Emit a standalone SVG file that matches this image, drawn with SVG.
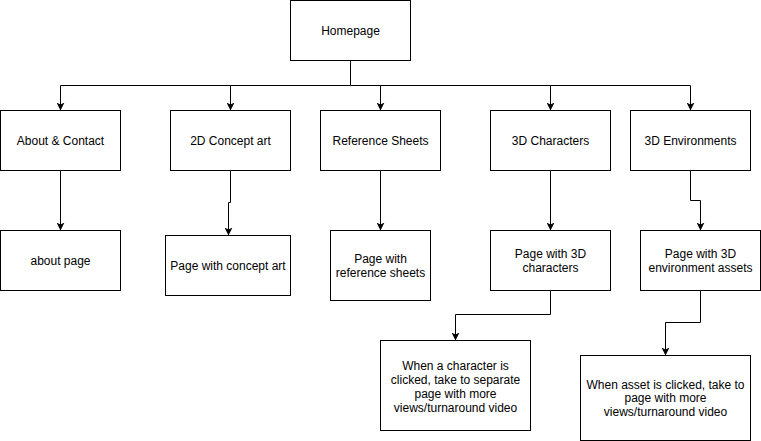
<svg xmlns="http://www.w3.org/2000/svg" width="761" height="441" viewBox="0 0 761 441">
<style>
.box{fill:#fff;stroke:#000;stroke-width:1}
.t{font-family:"Liberation Sans",Arial,sans-serif;font-size:12px;fill:#000;text-anchor:middle}
.c{fill:none;stroke:#000;stroke-width:1}
</style>
<defs>
<marker id="arr" viewBox="0 0 8 8" markerUnits="userSpaceOnUse" markerWidth="8" markerHeight="8" refX="8" refY="4" orient="auto">
<path d="M0,0 L8,4 L0,8 L2,4 Z" fill="#000"/>
</marker>
</defs>
<rect width="761" height="441" fill="#fff"/>
<g id="connectors">
<path class="c" d="M350.5,60.5 V85.5"/>
<path class="c" d="M350.5,85.5 H60.5 V110.5" marker-end="url(#arr)"/>
<path class="c" d="M230.5,85.5 V110.5" marker-end="url(#arr)"/>
<path class="c" d="M350.5,85.5 H690.5 V110.5" marker-end="url(#arr)"/>
<path class="c" d="M380.5,85.5 V110.5" marker-end="url(#arr)"/>
<path class="c" d="M550.5,85.5 V110.5" marker-end="url(#arr)"/>
<path class="c" d="M60.5,170.5 V230.5" marker-end="url(#arr)"/>
<path class="c" d="M230.5,170.5 V202.5 H228.5 V235.5" marker-end="url(#arr)"/>
<path class="c" d="M380.5,170.5 V230.5" marker-end="url(#arr)"/>
<path class="c" d="M550.5,170.5 V230.5" marker-end="url(#arr)"/>
<path class="c" d="M690.5,170.5 V200.5 H700.5 V230.5" marker-end="url(#arr)"/>
<path class="c" d="M550.5,290.5 V314.5 H455.5 V340.5" marker-end="url(#arr)"/>
<path class="c" d="M700.5,290.5 V322.5 H665.5 V355.5" marker-end="url(#arr)"/>
</g>
<g id="homepage"><rect class="box" x="290.5" y="0.5" width="120" height="60"/><text class="t" x="350.5" y="35">Homepage</text></g>
<g id="about-contact"><rect class="box" x="0.5" y="110.5" width="120" height="60"/><text class="t" x="60.5" y="145">About &amp; Contact</text></g>
<g id="concept-art"><rect class="box" x="170.5" y="110.5" width="120" height="60"/><text class="t" x="230.5" y="145">2D Concept art</text></g>
<g id="reference-sheets"><rect class="box" x="320.5" y="110.5" width="120" height="60"/><text class="t" x="380.5" y="145">Reference Sheets</text></g>
<g id="3d-characters"><rect class="box" x="490.5" y="110.5" width="120" height="60"/><text class="t" x="550.5" y="145">3D Characters</text></g>
<g id="3d-environments"><rect class="box" x="630.5" y="110.5" width="120" height="60"/><text class="t" x="690.5" y="145">3D Environments</text></g>
<g id="about-page"><rect class="box" x="0.5" y="230.5" width="120" height="60"/><text class="t" x="60.5" y="265">about page</text></g>
<g id="concept-page"><rect class="box" x="165.5" y="235.5" width="125" height="60"/><text class="t" x="228" y="270">Page with concept art</text></g>
<g id="reference-page"><rect class="box" x="330.5" y="230.5" width="100" height="70"/><text class="t" x="380.5" y="263">Page with</text><text class="t" x="380.5" y="277">reference sheets</text></g>
<g id="characters-page"><rect class="box" x="490.5" y="230.5" width="120" height="60"/><text class="t" x="550.5" y="258">Page with 3D</text><text class="t" x="550.5" y="272">characters</text></g>
<g id="environments-page"><rect class="box" x="640.5" y="230.5" width="120" height="60"/><text class="t" x="700.5" y="258">Page with 3D</text><text class="t" x="700.5" y="272">environment assets</text></g>
<g id="character-detail"><rect class="box" x="380.5" y="340.5" width="150" height="90"/><text class="t" x="455.5" y="370">When a character is</text><text class="t" x="455.5" y="384">clicked, take to separate</text><text class="t" x="455.5" y="398">page with more</text><text class="t" x="455.5" y="412">views/turnaround video</text></g>
<g id="asset-detail"><rect class="box" x="580.5" y="355.5" width="170" height="85"/><text class="t" x="665.5" y="389">When asset is clicked, take to</text><text class="t" x="665.5" y="402">page with more</text><text class="t" x="665.5" y="416">views/turnaround video</text></g>
</svg>
